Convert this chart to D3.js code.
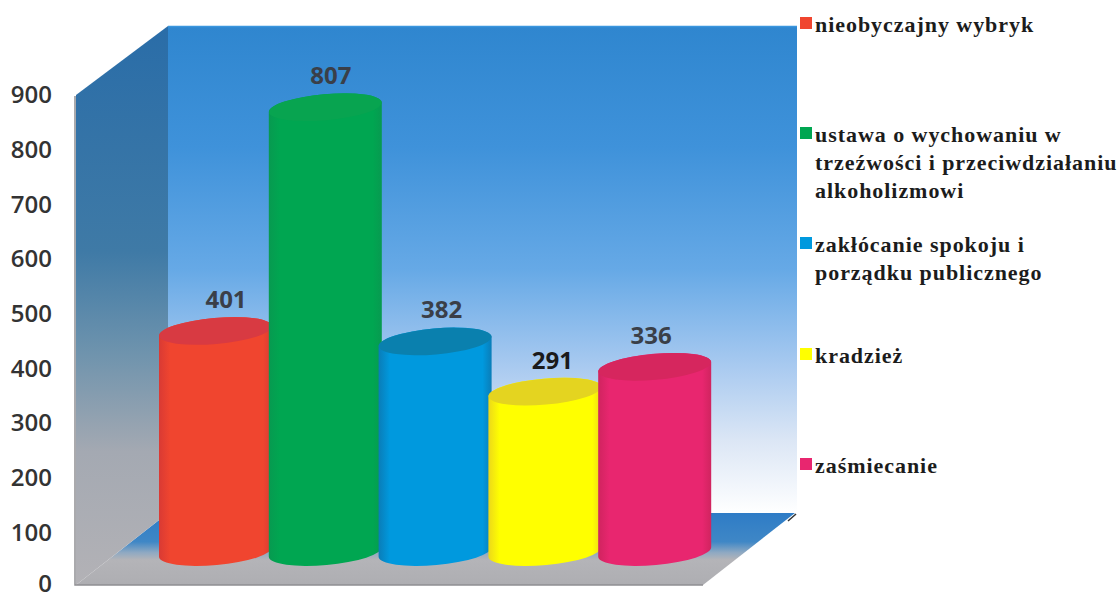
<!DOCTYPE html>
<html>
<head>
<meta charset="utf-8">
<script src="https://cdn.jsdelivr.net/npm/d3@7"></script>
<style>
  html, body { margin: 0; padding: 0; background: #fff; }
  svg { display: block; }
</style>
</head>
<body>
<div id="chart"></div>
<script>
var categories = ["nieobyczajny wybryk", "ustawa o wychowaniu", "zakłócanie spokoju", "kradzież", "zaśmiecanie"];
var values = [401, 807, 382, 291, 336];
var ticks = [0, 100, 200, 300, 400, 500, 600, 700, 800, 900];
var legendLines = [
  ["nieobyczajny wybryk"],
  ["ustawa o wychowaniu w", "trzeźwości i przeciwdziałaniu", "alkoholizmowi"],
  ["zakłócanie spokoju i", "porządku publicznego"],
  ["kradzież"],
  ["zaśmiecanie"]
];
var bodyColors = ["#f0452f", "#00a651", "#0099de", "#ffff00", "#e8266f"];
var edgeColors = ["#d93a34", "#079a50", "#0a7db8", "#ecd81a", "#d0245f"];
var capColors = ["#d83a42", "#08a450", "#0a80ae", "#e4d420", "#d6265e"];
var labelShift = [11, 6, 7, 8, -3]; // labels are not centred on the bars in the picture

var W = 1117, H = 594;
var svg = d3.select("#chart").append("svg").attr("width", W).attr("height", H);
var defs = svg.append("defs");

function gradient(id, stops, vertical, y1, y2) {
  var g = defs.append("linearGradient").attr("id", id);
  if (vertical) {
    g.attr("gradientUnits", "userSpaceOnUse").attr("x1", 0).attr("x2", 0).attr("y1", y1).attr("y2", y2);
  } else {
    g.attr("x1", 0).attr("x2", 1).attr("y1", 0).attr("y2", 0);
  }
  stops.forEach(function(s) {
    g.append("stop").attr("offset", s[0]).attr("stop-color", s[1]);
  });
}

gradient("backWall", [[0, "#2f86cf"], [0.25, "#3f92da"], [0.5, "#66a9e6"], [0.7, "#a9caf0"], [0.85, "#dbe6f5"], [1, "#ffffff"]], true, 26, 513);
gradient("sideWall", [[0, "#2a6da8"], [0.4, "#3f7aa6"], [0.58, "#6e93ad"], [0.76, "#a4a9b2"], [1, "#b3b2b6"]], true, 30, 585);
gradient("floor", [[0, "#2e7cc6"], [0.4, "#3f87c6"], [0.55, "#8fa9c2"], [0.65, "#b4b4b8"], [1, "#aeaeb2"]], true, 513, 585);

// room: back wall, side wall, floor
svg.append("path").attr("d", "M168,26L797,26L797,513L168,513Z").attr("fill", "url(#backWall)");
svg.append("path").attr("d", "M168,513L795,513L703,585L76,585Z").attr("fill", "url(#floor)");
svg.append("path").attr("d", "M76,95L168,26L168,513L76,585Z").attr("fill", "url(#sideWall)");
svg.append("path").attr("d", "M75,96L75,585L703,585").attr("fill", "none").attr("stroke", "#8f8f93").attr("stroke-width", 1.5);
svg.append("path").attr("d", "M788,521L796,514").attr("stroke", "#333").attr("stroke-width", 1.5);
svg.append("path").attr("d", "M168,26.5L797,26.5").attr("stroke", "#3a96de").attr("stroke-width", 1.5);

// axis
var y = d3.scaleLinear().domain([0, 900]).range([587, 95]);
var axis = d3.axisLeft(y).tickValues(ticks).tickSize(0).tickPadding(0);
var axisG = svg.append("g").attr("transform", "translate(52,0)").call(axis);
axisG.select(".domain").remove();
axisG.selectAll("text")
  .attr("font-family", "'Open Sans', sans-serif")
  .attr("font-size", 24)
  .attr("font-weight", 600)
  .attr("fill", "#333");
// the 0 runs off the bottom of the page otherwise
axisG.selectAll(".tick").filter(function(d) { return d == 0; }).select("text").attr("y", -3);

// cylinders
var barY = d3.scaleLinear().domain([0, 900]).range([552, 56]);
var x = d3.scaleBand().domain(categories).range([159, 708]).padding(0);
var barW = 113, ry = 13, tilt = 5;

categories.forEach(function(c, i) {
  gradient("bar" + i, [[0, edgeColors[i]], [0.1, bodyColors[i]], [0.92, bodyColors[i]], [1, edgeColors[i]]], false);
});

var bars = svg.append("g").selectAll("g").data(values).enter().append("g");

bars.append("path")
  .attr("fill", function(d, i) { return "url(#bar" + i + ")"; })
  .attr("d", function(d, i) {
    var x0 = x(categories[i]), x1 = x0 + barW, yt = barY(d), yb = barY(0);
    var rx = barW / 2;
    return "M" + x0 + "," + (yt + tilt) +
      "L" + x0 + "," + (yb + tilt) +
      "A" + rx + "," + ry + ",-5,0,0," + x1 + "," + (yb - tilt) +
      "L" + x1 + "," + (yt - tilt) +
      "A" + rx + "," + ry + ",-5,0,0," + x0 + "," + (yt + tilt) + "Z";
  });

bars.append("ellipse")
  .attr("fill", function(d, i) { return capColors[i]; })
  .attr("cx", function(d, i) { return x(categories[i]) + barW / 2; })
  .attr("cy", function(d) { return barY(d); })
  .attr("rx", barW / 2)
  .attr("ry", ry)
  .attr("transform", function(d, i) {
    return "rotate(-5," + (x(categories[i]) + barW / 2) + "," + barY(d) + ")";
  });

bars.append("text")
  .attr("x", function(d, i) { return x(categories[i]) + 56 + labelShift[i]; })
  .attr("y", function(d) { return barY(d) - 23; })
  .attr("text-anchor", "middle")
  .attr("font-family", "'Open Sans', sans-serif")
  .attr("font-size", 24)
  .attr("font-weight", 700)
  .attr("fill", function(d, i) { return i == 3 ? "#1a1a1a" : "#3a3f48"; })
  .text(function(d) { return d; });

// legend
var legendTop = [32, 142, 252, 363, 473];
var legend = svg.append("g").selectAll("g").data(legendLines).enter().append("g")
  .attr("transform", function(d, i) { return "translate(800," + legendTop[i] + ")"; });

legend.append("rect")
  .attr("x", 0).attr("y", -15).attr("width", 12).attr("height", 12)
  .attr("fill", function(d, i) { return bodyColors[i]; });

legend.append("text")
  .attr("font-family", "'Liberation Serif', serif")
  .attr("font-size", 22)
  .attr("font-weight", "bold")
  .attr("letter-spacing", 0.95)
  .attr("fill", "#1c1c1c")
  .selectAll("tspan").data(function(d) { return d; }).enter().append("tspan")
  .attr("x", 15)
  .attr("y", function(d, i) { return i * 28; })
  .text(function(d) { return d; });
</script>
</body>
</html>
